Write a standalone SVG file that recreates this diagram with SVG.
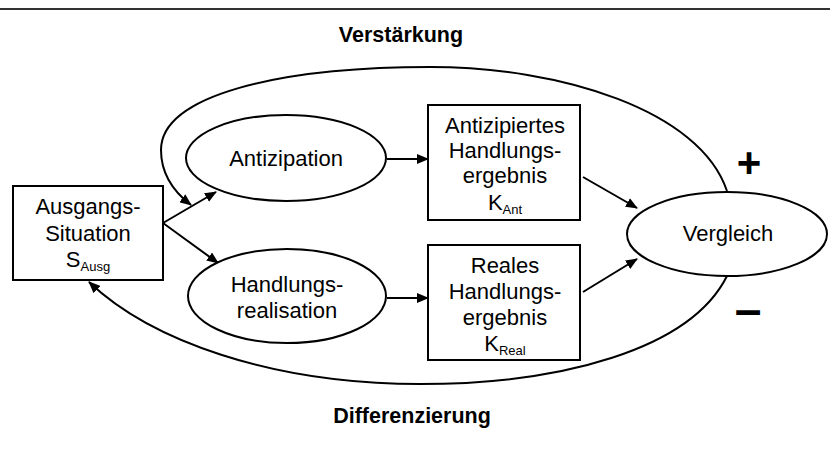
<svg xmlns="http://www.w3.org/2000/svg" width="830" height="457" viewBox="0 0 830 457">
<style>
.n{fill:#fff;stroke:#000;stroke-width:2}
.t{font-family:"Liberation Sans",Arial,sans-serif;font-size:22px;fill:#000;text-anchor:middle}
.s{font-size:13px}
.b{font-family:"Liberation Sans",Arial,sans-serif;font-size:21.5px;font-weight:bold;fill:#000;text-anchor:middle}
.c{fill:none;stroke:#000;stroke-width:2}
.a{marker-end:url(#ah)}
</style>
<defs>
<marker id="ah" viewBox="0 0 12 10" refX="11" refY="5" markerWidth="12" markerHeight="10" markerUnits="userSpaceOnUse" orient="auto">
<path d="M0,0 L12,5 L0,10 z" fill="#000"/>
</marker>
</defs>
<rect x="0" y="0" width="830" height="457" fill="#fff"/>
<line x1="0" y1="9" x2="830" y2="9" stroke="#333" stroke-width="2"/>
<text class="b" x="401" y="42">Verstärkung</text>
<text class="b" x="412" y="423">Differenzierung</text>
<g id="connectors">
<path class="c a" d="M727,191 C700,110 560,67 430,67 C280,67 161,95 161,150 C161,175 174,192 191,205"/>
<path class="c a" d="M727,276 C690,350 560,384 420,384 C270,384 150,340 89,282"/>
<path class="c a" d="M163,223 L216,192"/>
<path class="c a" d="M163,223 L218,263"/>
<path class="c a" d="M387,159 L428,159"/>
<path class="c a" d="M387,298 L428,298"/>
<path class="c a" d="M583,177 L637,208"/>
<path class="c a" d="M583,292 L637,259"/>
</g>
<g id="ausgangs">
<rect class="n" x="13" y="186" width="150" height="94"/>
<text class="t" x="88" y="214">Ausgangs-</text>
<text class="t" x="88" y="241">Situation</text>
<text class="t" x="88" y="267">S<tspan class="s" dy="4">Ausg</tspan></text>
</g>
<g id="antizipation">
<ellipse class="n" cx="286" cy="158" rx="100" ry="43"/>
<text class="t" x="286" y="166">Antizipation</text>
</g>
<g id="handlungsrealisation">
<ellipse class="n" cx="287" cy="296" rx="99" ry="47"/>
<text class="t" x="287" y="292">Handlungs-</text>
<text class="t" x="287" y="318">realisation</text>
</g>
<g id="antizipiertes">
<rect class="n" x="428" y="105" width="152" height="115"/>
<text class="t" x="505" y="133">Antizipiertes</text>
<text class="t" x="505" y="158">Handlungs-</text>
<text class="t" x="505" y="183">ergebnis</text>
<text class="t" x="505" y="210">K<tspan class="s" dy="4">Ant</tspan></text>
</g>
<g id="reales">
<rect class="n" x="428" y="245" width="152" height="115"/>
<text class="t" x="505" y="273">Reales</text>
<text class="t" x="505" y="299">Handlungs-</text>
<text class="t" x="505" y="325">ergebnis</text>
<text class="t" x="505" y="351">K<tspan class="s" dy="4">Real</tspan></text>
</g>
<g id="vergleich">
<ellipse class="n" cx="727" cy="234" rx="100" ry="42"/>
<text class="t" x="728" y="241">Vergleich</text>
</g>
<text x="749" y="177" font-family="Liberation Sans,Arial,sans-serif" font-size="42" font-weight="bold" text-anchor="middle">+</text>
<text x="748" y="326" font-family="Liberation Sans,Arial,sans-serif" font-size="48" font-weight="bold" text-anchor="middle">–</text>
</svg>
